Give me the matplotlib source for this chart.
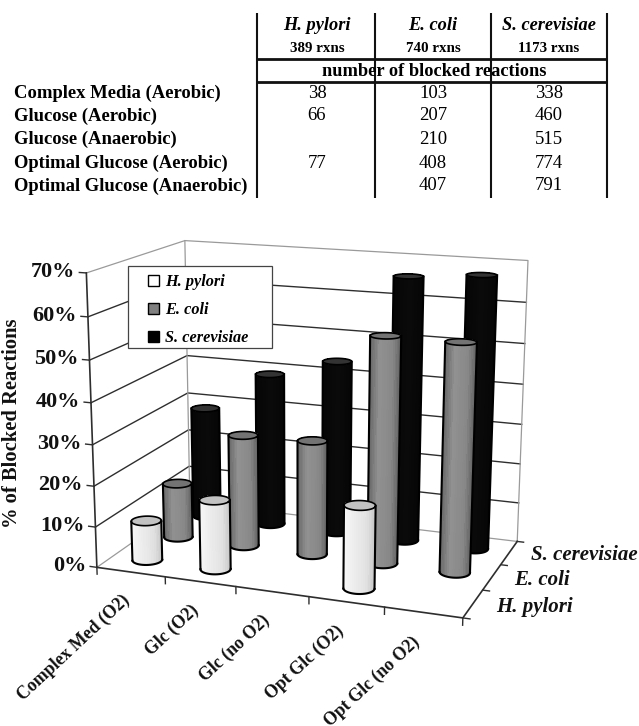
import numpy as np
import matplotlib
matplotlib.use('Agg')
import matplotlib.pyplot as plt
from matplotlib.patches import Patch, Rectangle
from mpl_toolkits.mplot3d import proj3d

# Table at the top
table_rows = ['Complex Media (Aerobic)', 'Glucose (Aerobic)', 'Glucose (Anaerobic)',
              'Optimal Glucose (Aerobic)', 'Optimal Glucose (Anaerobic)']
organisms = ['H. pylori', 'E. coli', 'S. cerevisiae']
rxns = ['389 rxns', '740 rxns', '1173 rxns']
blocked_hp = ['38', '66', '', '77', '']
blocked_ec = ['103', '207', '210', '408', '407']
blocked_sc = ['338', '460', '515', '774', '791']

# Percentages in the 3D chart
categories = ['Complex Med (O2)', 'Glc (O2)', 'Glc (no O2)', 'Opt Glc (O2)', 'Opt Glc (no O2)']
pct_hp = [9.8, 17.0, np.nan, 19.8, np.nan]
pct_ec = [13.9, 28.0, 28.4, 55.1, 55.0]
pct_sc = [28.8, 39.2, 43.9, 66.0, 67.4]
z_ticks = [0, 10, 20, 30, 40, 50, 60, 70]

W, H = 639, 726
SERIF = 'Liberation Serif'
plt.rcParams['font.family'] = SERIF

fig = plt.figure(figsize=(W / 100, H / 100), dpi=100, facecolor='white')

# view fitted to the corners of the reference box
S, cx, cy = 513.7, 305.57, 420.81
ax = fig.add_axes([(cx - S / 2) / W, 1 - (cy + S / 2) / H, S / W, S / H],
                  projection='3d', computed_zorder=False)
ax.set_xlim(0, 5)
ax.set_ylim(0, 3)
ax.set_zlim(0, 70)
ax.view_init(elev=14.84, azim=-69.89, roll=-0.13)
ax.set_proj_type('persp', focal_length=0.5554)
ax.set_box_aspect((1, 0.5924, 0.7892))
ax.set_axis_off()
ax.patch.set_alpha(0)
ax.apply_aspect()
M = ax.get_proj()

# overlay in pixel units: table, legend box and all chart labels
over = fig.add_axes([0, 0, 1, 1], facecolor='none')
over.set_xlim(0, W)
over.set_ylim(H, 0)
over.axis('off')


def to_px(x, y, z):
    px, py, _ = proj3d.proj_transform(x, y, z, M)
    dx, dy = ax.transData.transform((px, py))
    return dx, H - dy


GRID = '#2e2e2e'
EDGE = '#9a9a9a'
INK = '#111111'

# walls
for z in z_ticks[1:-1]:
    ax.plot([0, 0, 5], [0, 3, 3], [z, z, z], color=GRID, lw=1.0, zorder=1)
ax.plot([0, 0, 5, 5], [0, 3, 3, 3], [70, 70, 70, 0], color=EDGE, lw=0.9, zorder=1)
ax.plot([0, 0, 5], [0, 3, 3], [0, 0, 0], color=EDGE, lw=0.9, zorder=1)
ax.plot([0, 0], [3, 3], [0, 70], color=EDGE, lw=0.9, zorder=1)

# axis lines and ticks
ax.plot([0, 0], [0, 0], [0, 70], color=GRID, lw=1.2, zorder=1)
ax.plot([0, 5, 5], [0, 0, 3], [0, 0, 0], color=GRID, lw=1.2, zorder=1)
for z in z_ticks:
    ax.plot([0, -0.1], [0, 0], [z, z], color=GRID, lw=1.0, zorder=1)
    tx, ty = to_px(-0.16, 0, z)
    over.text(tx, ty, f'{z}%', ha='right', va='center', fontsize=16, fontweight='bold', color=INK)
for i in range(6):
    ax.plot([i, i], [0, 0], [0, -1.7], color=GRID, lw=1.0, zorder=1)
for j in range(4):
    ax.plot([5, 5.09], [j, j], [0, 0], color=GRID, lw=1.0, zorder=1)
for i, c in enumerate(categories):
    tx, ty = to_px(i + 0.35, 0, -5.2)
    over.text(tx, ty, c, rotation=43, rotation_mode='anchor', ha='right', va='top',
              fontsize=12.8, fontweight='bold', color=INK)
for j, o in enumerate(organisms):
    tx, ty = to_px(5.3, j + 0.5, 0)
    over.text(tx, ty, o, ha='left', va='center', fontsize=15, fontweight='bold',
              style='italic', color=INK)

# shade across the visible width of a cylinder: (position, grey)
shade_hp = ([0, 0.3, 0.7, 1], [0.97, 0.93, 0.88, 0.76])
shade_ec = ([0, 0.3, 0.7, 1], [0.40, 0.57, 0.53, 0.36])
shade_sc = ([0, 0.5, 1], [0.02, 0.04, 0.02])
top_hp, top_ec, top_sc = 0.76, 0.45, 0.2

theta = np.linspace(0, 2 * np.pi, 49)
RX, RY = 0.2, 0.2
zo = 10


def draw_bar(x0, y0, h, shade, top):
    global zo
    cx_, cy_ = x0 + RX * np.cos(theta), y0 + RY * np.sin(theta)
    sx, _, _ = proj3d.proj_transform(cx_, cy_, np.full(49, h / 2), M)
    u = (sx - sx.min()) / (sx.max() - sx.min())
    grey = np.interp(u, *shade)
    X = np.vstack([cx_, cx_])
    Y = np.vstack([cy_, cy_])
    Z = np.vstack([np.zeros(49), np.full(49, h)])
    colors = np.zeros((2, 49, 4))
    colors[..., :3] = grey[None, :, None]
    colors[..., 3] = 1
    ax.plot_surface(X, Y, Z, facecolors=colors, shade=False, linewidth=0, antialiased=False,
                    rstride=1, cstride=1, zorder=zo)
    ax.plot_trisurf(cx_[:-1], cy_[:-1], np.full(48, h), color=str(top), shade=False,
                    linewidth=0, antialiased=False, zorder=zo + 1)
    # outline: top ellipse, the two sides, and the front half of the base
    il, ir = sx[:-1].argmin(), sx[:-1].argmax()
    front = np.arange(il, ir + 1 if ir > il else ir + 49) % 48
    ax.plot(cx_, cy_, np.full(49, h), color='black', lw=1.2, zorder=zo + 2)
    ax.plot(cx_[front], cy_[front], np.zeros(len(front)), color='black', lw=1.5, zorder=zo + 2)
    for i in (il, ir):
        ax.plot([cx_[i], cx_[i]], [cy_[i], cy_[i]], [0, h], color='black', lw=1.5, zorder=zo + 2)
    zo += 3


series = [(pct_sc, 2.5, shade_sc, top_sc), (pct_ec, 1.5, shade_ec, top_ec), (pct_hp, 0.5, shade_hp, top_hp)]
for vals, y0, shade, top in series:
    for i, v in enumerate(vals):
        if not np.isnan(v):
            draw_bar(i + 0.5, y0, v, shade, top)

# table
col_x = [257, 375, 491, 607]
col_mid = [317, 433, 549]
row_y = [93, 116, 139, 163, 186]
for x in col_x:
    over.plot([x, x], [13, 198], color=INK, lw=1.5, solid_capstyle='butt')
for y in (59, 82):
    over.plot([257, 607], [y, y], color=INK, lw=2, solid_capstyle='butt')
for m, o, r in zip(col_mid, organisms, rxns):
    over.text(m, 25, o, ha='center', va='center', fontsize=13.2, fontweight='bold', style='italic')
    over.text(m, 48, r, ha='center', va='center', fontsize=10.8, fontweight='bold')
over.text(434, 71, 'number of blocked reactions', ha='center', va='center', fontsize=13.2, fontweight='bold')
for y, name, a, b, c in zip(row_y, table_rows, blocked_hp, blocked_ec, blocked_sc):
    over.text(14, y, name, ha='left', va='center', fontsize=13.4, fontweight='bold')
    for m, t in zip(col_mid, (a, b, c)):
        over.text(m, y, t, ha='center', va='center', fontsize=13.5)

# legend
over.add_patch(Rectangle((128, 266), 144, 82, facecolor='white', edgecolor='#444444', lw=0.9))
handles = [Patch(facecolor='white', edgecolor='black', lw=1.0),
           Patch(facecolor='#808080', edgecolor='black', lw=1.0),
           Patch(facecolor='black', edgecolor='black', lw=1.0)]
over.legend(handles, organisms, loc='upper left', bbox_to_anchor=(143 / W, 1 - 269 / H),
            bbox_transform=fig.transFigure, frameon=False, ncol=1, handlelength=0.7, handleheight=0.7,
            handletextpad=0.35, labelspacing=0.74, borderpad=0.3, borderaxespad=0,
            prop={'family': SERIF, 'size': 11.7, 'weight': 'bold', 'style': 'italic'})

over.text(12, 423, '% of Blocked Reactions', rotation=90, ha='center', va='center',
          fontsize=14.8, fontweight='bold', color=INK)

fig.savefig('out.png', dpi=100)
